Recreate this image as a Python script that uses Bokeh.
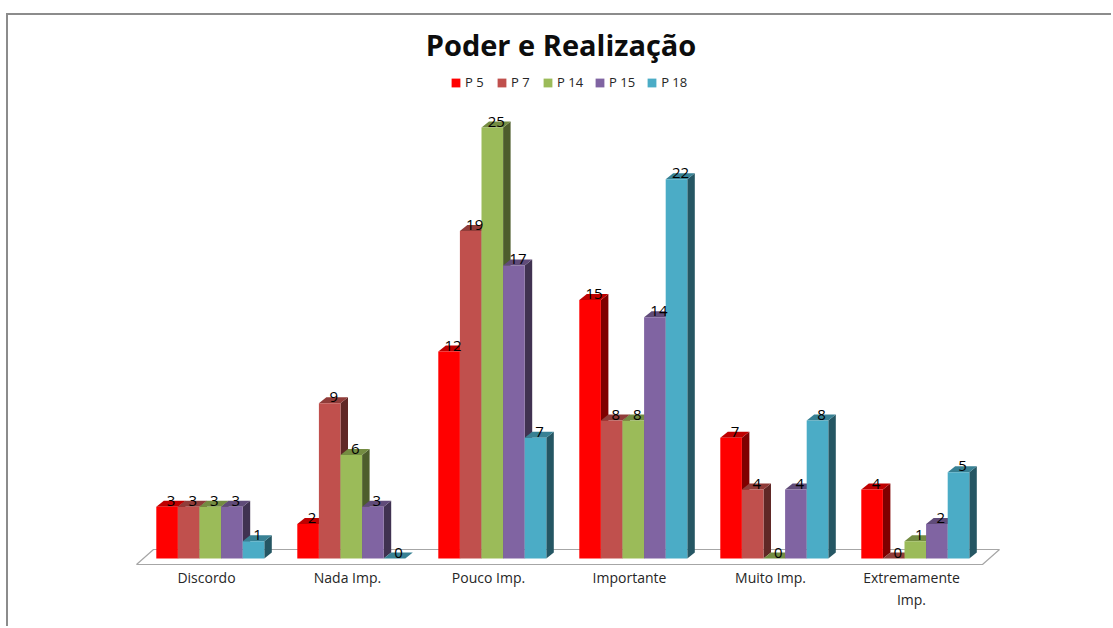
from bokeh.plotting import figure
from bokeh.models import Legend, LegendItem, FixedTicker, ColumnDataSource, Range1d, Title
from bokeh.core.properties import value
from bokeh.embed import file_html
from bokeh.resources import INLINE

categories = ["Discordo", "Nada Imp.", "Pouco Imp.", "Importante", "Muito Imp.", "Extremamente\nImp."]
series_names = ["P 5", "P 7", "P 14", "P 15", "P 18"]
p5 = [3, 2, 12, 15, 7, 4]
p7 = [3, 9, 19, 8, 4, 0]
p14 = [3, 6, 25, 8, 0, 1]
p15 = [3, 3, 17, 14, 4, 2]
p18 = [1, 0, 7, 22, 8, 5]
colors = ["#FF0000", "#C0504D", "#9BBB59", "#8064A2", "#4BACC6"]
chart_title = "Poder e Realização"

FONT = "Open Sans"
W, H = 1105, 613
FIG_LEFT, FIG_TOP = 8, 15
FRAME_TOP, FRAME_BOT = 63, 566
PX_X = 141.0      # px per category
PX_Y = 17.24      # px per unit of value
ZERO_X = 206.0    # abs px of category 0
ZERO_Y = 558.0    # abs px of value 0
BAR = 21.6 / PX_X
SHIFT = 3.8 / PX_X
DX = 7.5 / PX_X
DY = 6.0 / PX_Y


def shade(c, f):
    r, g, b = (int(c[i:i + 2], 16) for i in (1, 3, 5))
    return "#%02x%02x%02x" % (int(r * f), int(g * f), int(b * f))


p = figure(width=W, height=H, output_backend="svg", toolbar_location=None,
           x_range=Range1d((FIG_LEFT - ZERO_X) / PX_X, (FIG_LEFT + W - ZERO_X) / PX_X),
           y_range=Range1d((ZERO_Y - FRAME_BOT) / PX_Y, (ZERO_Y - FRAME_TOP) / PX_Y),
           min_border_left=0, min_border_right=0, min_border_top=FRAME_TOP - FIG_TOP,
           min_border_bottom=FIG_TOP + H - FRAME_BOT, outline_line_color=None)
p.styles = {"margin-top": "13px", "margin-left": "6px",
            "border-top": "2px solid #8c8c8c", "border-left": "2px solid #8c8c8c"}
p.grid.visible = False
p.yaxis.visible = False

p.title = Title(text=chart_title, align="center", text_font=FONT, text_font_style="bold",
                text_font_size="29px", text_color="#0d0d0d", offset=3, standoff=0)

ax = p.xaxis[0]
ax.ticker = FixedTicker(ticks=list(range(len(categories))))
ax.major_label_overrides = {i: c for i, c in enumerate(categories)}
ax.major_label_text_font = FONT
ax.major_label_text_font_size = "14px"
ax.major_label_text_color = "#262626"
ax.major_label_standoff = -5
ax.axis_line_color = None
ax.major_tick_line_color = None
ax.minor_tick_line_color = None

# floor of the 3D chart
n = len(categories)
fl_l = (136 - ZERO_X) / PX_X
fl_r = (982 - ZERO_X) / PX_X
fl_f = (ZERO_Y - 564) / PX_Y
fl_b = (ZERO_Y - 549) / PX_Y
skew = 17 / PX_X
p.patch([fl_l, fl_r, fl_r + skew, fl_l + skew], [fl_f, fl_f, fl_b, fl_b],
        fill_color="white", line_color="#a6a6a6", line_width=1.2)

items = []
all_series = [p5, p7, p14, p15, p18]
for s, (name, vals, col) in enumerate(zip(series_names, all_series, colors)):
    xs = [i + SHIFT + (s - 2) * BAR for i in range(n)]
    side_x = [[x + BAR / 2, x + BAR / 2 + DX, x + BAR / 2 + DX, x + BAR / 2] for x in xs]
    side_y = [[0, DY, v + DY, v] for v in vals]
    top_x = [[x - BAR / 2, x + BAR / 2, x + BAR / 2 + DX, x - BAR / 2 + DX] for x in xs]
    top_y = [[v, v, v + DY, v + DY] for v in vals]
    p.patches(side_x, side_y, fill_color=shade(col, 0.5), line_color=None)
    p.patches(top_x, top_y, fill_color=shade(col, 0.75), line_color=None)
    r = p.vbar(x=xs, top=vals, bottom=0, width=BAR, fill_color=col, line_color=None)
    items.append(LegendItem(label=name, renderers=[r]))

for s, vals in enumerate(all_series):
    xs = [i + SHIFT + (s - 2) * BAR for i in range(n)]
    src = ColumnDataSource(dict(x=xs, y=vals, t=[str(v) for v in vals]))
    p.text("x", "y", text="t", source=src, text_font=value(FONT), text_font_size="15px",
           text_color="black", text_align="center", text_baseline="middle",
           x_offset=4, y_offset=-6)

legend = Legend(items=items, orientation="horizontal", location=(442, 475),
                border_line_color=None, background_fill_alpha=0,
                label_text_font=FONT, label_text_font_size="13px", label_text_color="#262626",
                glyph_width=11, glyph_height=11, label_standoff=4, spacing=11,
                padding=0, margin=0)
p.add_layout(legend, "center")

open("out.html", "w").write(file_html(p, INLINE))
